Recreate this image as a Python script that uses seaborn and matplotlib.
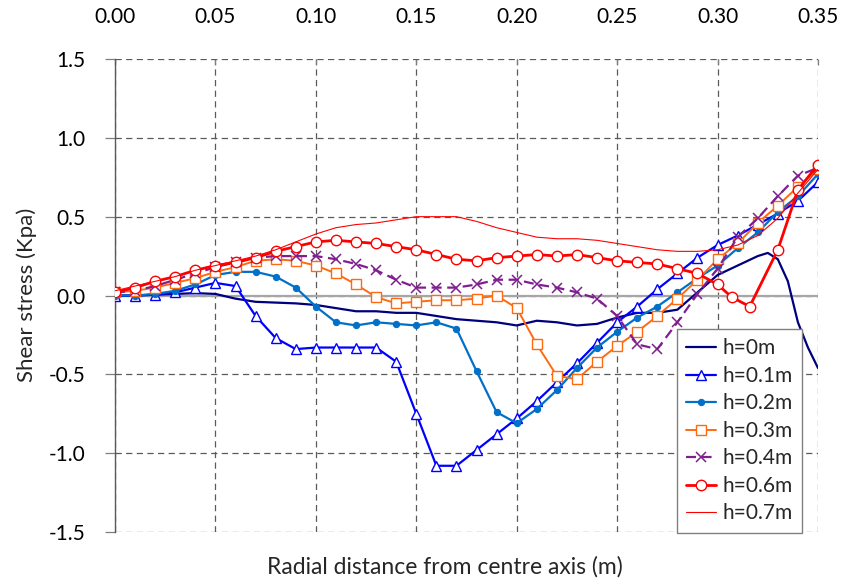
import matplotlib
matplotlib.use("Agg")
import matplotlib.pyplot as plt
import seaborn as sns
import numpy as np
import pandas as pd

# ---- data ----
x_base = [0.00, 0.01, 0.02, 0.03, 0.04, 0.05, 0.06, 0.07, 0.08, 0.09,
          0.10, 0.11, 0.12, 0.13, 0.14, 0.15, 0.16, 0.17, 0.18, 0.19,
          0.20, 0.21, 0.22, 0.23, 0.24, 0.25, 0.26, 0.27, 0.28, 0.29,
          0.30, 0.31, 0.32, 0.33, 0.34, 0.35]

x_h0 = [0.00, 0.01, 0.02, 0.03, 0.04, 0.05, 0.06, 0.07, 0.08, 0.09,
        0.10, 0.11, 0.12, 0.13, 0.14, 0.15, 0.16, 0.17, 0.18, 0.19,
        0.20, 0.21, 0.22, 0.23, 0.24, 0.25, 0.26, 0.27, 0.28, 0.29,
        0.30, 0.31, 0.32, 0.325, 0.33, 0.335, 0.34, 0.345, 0.35]
h0 = [0.0, 0.0, 0.005, 0.01, 0.015, 0.01, -0.02, -0.04, -0.045, -0.05,
      -0.06, -0.08, -0.10, -0.10, -0.11, -0.11, -0.13, -0.15, -0.16, -0.17,
      -0.19, -0.16, -0.17, -0.19, -0.18, -0.14, -0.11, -0.11, -0.09, 0.02,
      0.13, 0.19, 0.25, 0.27, 0.23, 0.09, -0.17, -0.33, -0.46]

h1 = [-0.005, 0.0, 0.005, 0.02, 0.05, 0.08, 0.06, -0.13, -0.27, -0.34,
      -0.33, -0.33, -0.33, -0.33, -0.42, -0.75, -1.08, -1.08, -0.98, -0.88,
      -0.78, -0.67, -0.55, -0.43, -0.30, -0.17, -0.07, 0.04, 0.14, 0.24,
      0.32, 0.38, 0.45, 0.52, 0.60, 0.72]

h2 = [0.0, 0.0, 0.01, 0.03, 0.07, 0.13, 0.15, 0.15, 0.12, 0.05,
      -0.07, -0.17, -0.19, -0.17, -0.18, -0.19, -0.17, -0.21, -0.48, -0.74,
      -0.81, -0.72, -0.60, -0.46, -0.33, -0.23, -0.14, -0.07, 0.02, 0.11,
      0.19, 0.30, 0.40, 0.53, 0.63, 0.77]

h3 = [0.02, 0.03, 0.05, 0.08, 0.11, 0.15, 0.18, 0.22, 0.23, 0.22,
      0.19, 0.14, 0.07, -0.01, -0.05, -0.04, -0.03, -0.03, -0.02, 0.0,
      -0.08, -0.31, -0.51, -0.53, -0.42, -0.32, -0.23, -0.13, -0.02, 0.10,
      0.23, 0.33, 0.46, 0.57, 0.69, 0.80]

h4 = [0.02, 0.03, 0.06, 0.10, 0.14, 0.18, 0.21, 0.24, 0.25, 0.25,
      0.25, 0.23, 0.20, 0.16, 0.10, 0.05, 0.05, 0.05, 0.07, 0.10,
      0.10, 0.07, 0.05, 0.02, -0.02, -0.13, -0.31, -0.34, -0.17, 0.01,
      0.17, 0.37, 0.49, 0.63, 0.76, 0.81]

x_h6 = [0.00, 0.01, 0.02, 0.03, 0.04, 0.05, 0.06, 0.07, 0.08, 0.09,
        0.10, 0.11, 0.12, 0.13, 0.14, 0.15, 0.16, 0.17, 0.18, 0.19,
        0.20, 0.21, 0.22, 0.23, 0.24, 0.25, 0.26, 0.27, 0.28, 0.29,
        0.30, 0.307, 0.316, 0.33, 0.34, 0.35]
h6 = [0.02, 0.05, 0.09, 0.12, 0.16, 0.19, 0.21, 0.24, 0.28, 0.31,
      0.34, 0.35, 0.34, 0.33, 0.31, 0.29, 0.26, 0.23, 0.22, 0.24,
      0.25, 0.26, 0.25, 0.26, 0.24, 0.22, 0.21, 0.20, 0.17, 0.14,
      0.07, -0.01, -0.07, 0.29, 0.67, 0.83]

h7 = [0.03, 0.06, 0.09, 0.12, 0.16, 0.19, 0.22, 0.25, 0.29, 0.34,
      0.39, 0.43, 0.45, 0.46, 0.48, 0.50, 0.50, 0.50, 0.47, 0.43,
      0.40, 0.37, 0.36, 0.36, 0.35, 0.33, 0.31, 0.29, 0.28, 0.28,
      0.29, 0.32, 0.38, 0.49, 0.65, 0.80]

labels = ["h=0m", "h=0.1m", "h=0.2m", "h=0.3m", "h=0.4m", "h=0.6m", "h=0.7m"]
x_ticks = [0.00, 0.05, 0.10, 0.15, 0.20, 0.25, 0.30, 0.35]
y_ticks = [1.5, 1.0, 0.5, 0.0, -0.5, -1.0, -1.5]

# ---- style ----
sns.set_style("white")
plt.rcParams["font.family"] = ["Lato", "DejaVu Sans"]
plt.rcParams["axes.unicode_minus"] = False

fig = plt.figure(figsize=(8.43, 5.85), dpi=100)
ax = fig.add_axes([115 / 843, 1 - 532 / 585, 703 / 843, 473 / 585])

series = [
    (x_h0, h0, dict(color="#00007F", lw=1.6, marker=None)),
    (x_base, h1, dict(color="#0000FF", lw=1.6, marker="^", markersize=7,
                      markerfacecolor="white", markeredgecolor="#0000FF", markeredgewidth=1.0)),
    (x_base, h2, dict(color="#0070C8", lw=1.6, marker="o", markersize=4.5,
                      markerfacecolor="#0070C8", markeredgecolor="#0070C8")),
    (x_base, h3, dict(color="#FF6A10", lw=1.4, marker="s", markersize=7,
                      markerfacecolor="white", markeredgecolor="#FF6A10", markeredgewidth=1.0)),
    (x_base, h4, dict(color="#7F1F8F", lw=1.6, marker="x", markersize=7.5,
                      markeredgecolor="#7F1F8F", markerfacecolor="#7F1F8F",
                      markeredgewidth=1.1, linestyle=(0, (4.5, 2.5)))),
    (x_h6, h6, dict(color="#FF0000", lw=2.0, marker="o", markersize=7.5,
                    markerfacecolor="white", markeredgecolor="#FF0000", markeredgewidth=1.0)),
    (x_base, h7, dict(color="#FF0000", lw=0.8, marker=None)),
]

ax.axhline(0, color="#A6A6A6", lw=1.6, zorder=1.5)

for (xs, ys, kw), lab in zip(series, labels):
    df = pd.DataFrame({"x": xs, "y": ys})
    sns.lineplot(data=df, x="x", y="y", ax=ax, label=lab, sort=False,
                 estimator=None, zorder=3, **kw)

ax.set_xlim(0, 0.35)
ax.set_ylim(-1.5, 1.5)
ax.set_xticks(x_ticks)
ax.set_xticklabels([f"{v:.2f}" for v in x_ticks])
ax.set_yticks(y_ticks)
ax.set_yticklabels([f"{v:.1f}" for v in y_ticks])
ax.xaxis.tick_top()
ax.set_xlabel("")
ax.set_ylabel("")

ax.grid(True, linestyle=(0, (5, 3.5)), color="#5A5A5A", lw=0.9, zorder=1)
ax.set_axisbelow(True)
for s in ["top", "right", "bottom"]:
    ax.spines[s].set_visible(False)
ax.spines["left"].set_color("#595959")
ax.spines["left"].set_linewidth(1.0)
ax.spines["left"].set_zorder(2)

ax.tick_params(axis="y", direction="out", length=7, width=0.9, color="#7F7F7F",
               pad=14, labelsize=15, labelcolor="black", left=True)
ax.tick_params(axis="x", direction="in", length=4, width=0.9, color="#7F7F7F",
               pad=23, labelsize=15, labelcolor="black", top=True, bottom=False)

fig.text(445 / 843, 1 - 567 / 585, "Radial distance from centre axis (m)",
         ha="center", va="center", fontsize=16.5)
fig.text(27 / 843, 1 - 295 / 585, "Shear stress (Kpa)", ha="center", va="center",
         rotation=90, fontsize=16)

leg = ax.legend(loc="upper left", bbox_to_anchor=((677 - 115) / 703, (532 - 329) / 473),
                borderaxespad=0, frameon=True, fancybox=False, shadow=False,
                fontsize=15, labelspacing=0.36, handlelength=1.4, handletextpad=0.35,
                borderpad=0.45, framealpha=1)
leg.get_frame().set_edgecolor("#808080")
leg.get_frame().set_linewidth(1.0)
leg.set_zorder(5)

fig.savefig("out.png", dpi=100)
